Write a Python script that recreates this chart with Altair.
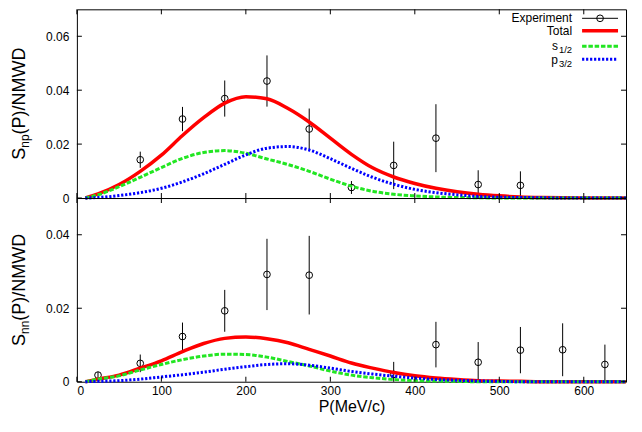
import altair as alt
import pandas as pd

# ---------------- data ----------------
P_grid = [10, 25, 50, 75, 100, 125, 150, 175, 200, 225, 250, 275, 300, 325, 350,
          375, 400, 425, 450, 475, 500, 525, 550, 575, 600, 625, 650]

np_total = [0, 0.0015, 0.0050, 0.0099, 0.0159, 0.0232, 0.0298, 0.0352, 0.0376, 0.0368,
            0.0332, 0.0282, 0.0222, 0.0162, 0.0112, 0.0078, 0.0054, 0.0036, 0.0023,
            0.0014, 0.0008, 0.0004, 0.0002, 0.0001, 0.00005, 0, 0]
np_s12 = [0, 0.0012, 0.0042, 0.0077, 0.0113, 0.0147, 0.0169, 0.0176, 0.0166, 0.0145,
          0.0124, 0.0099, 0.0070, 0.0044, 0.0025, 0.0014, 0.0008, 0.0004, 0.0002,
          0.0001, 0, 0, 0, 0, 0, 0, 0]
np_p32 = [0, 0.0002, 0.0009, 0.0020, 0.0036, 0.0060, 0.0090, 0.0125, 0.0160, 0.0185,
          0.0191, 0.0178, 0.0146, 0.0110, 0.0077, 0.0051, 0.0032, 0.0020, 0.0012,
          0.0006, 0.0003, 0.0002, 0.0001, 0, 0, 0, 0]

nn_total = [0, 0.0007, 0.0018, 0.0037, 0.0057, 0.0082, 0.0104, 0.0118, 0.0122, 0.0117,
            0.0106, 0.0088, 0.0070, 0.0051, 0.0037, 0.0025, 0.0016, 0.0010, 0.0006,
            0.0003, 0.0002, 0.0001, 0, 0, 0, 0, 0]
nn_s12 = [0, 0.0007, 0.0016, 0.0032, 0.0047, 0.0060, 0.0070, 0.0075, 0.0074, 0.0067,
          0.0055, 0.0043, 0.0029, 0.0018, 0.0011, 0.0006, 0.0003, 0.0002, 0.0001,
          0, 0, 0, 0, 0, 0, 0, 0]
nn_p32 = [0, 0.0001, 0.0003, 0.0007, 0.0013, 0.0019, 0.0026, 0.0034, 0.0041, 0.0047,
          0.0049, 0.0045, 0.0037, 0.0028, 0.0021, 0.0015, 0.0010, 0.0006, 0.0004,
          0.0002, 0.0001, 0, 0, 0, 0, 0, 0]

np_P = [75, 125, 175, 225, 275, 325, 375, 425, 475, 525]
np_val = [0.0142, 0.0293, 0.0369, 0.0434, 0.0256, 0.0039, 0.0121, 0.0222, 0.0050, 0.0047]
np_err = [0.0030, 0.0045, 0.0067, 0.0095, 0.0076, 0.0024, 0.0088, 0.0126, 0.0053, 0.0052]

nn_P = [25, 75, 125, 175, 225, 275, 375, 425, 475, 525, 575, 625]
nn_val = [0.0018, 0.0050, 0.0123, 0.0193, 0.0292, 0.0290, 0.0020, 0.0101, 0.0053,
          0.0086, 0.0087, 0.0047]
nn_err = [0.0009, 0.0024, 0.0038, 0.0057, 0.0097, 0.0107, 0.0034, 0.0062, 0.0055,
          0.0063, 0.0072, 0.0054]

x_ticks = [0, 100, 200, 300, 400, 500, 600]
np_yticks = [0, 0.02, 0.04, 0.06]
nn_yticks = [0, 0.02, 0.04]

legend_labels = ["Experiment", "Total"]

# ---------------- styling ----------------
FONT = "Liberation Sans"
W = 550
H_TOP = 189
H_BOT = 184
TICK = 5
RED = "#ff0000"
GREEN = "#22e622"
BLUE = "#0000ff"
one = pd.DataFrame({"a": [0]})


def panel(H, ydomain, yticks, total, s12, p32, Pexp, vexp, eexp, show_x, sub, legend):
    xaxis = (alt.Axis(values=x_ticks, format="d", ticks=False, domain=False, grid=False,
                      labelPadding=4, labelFontSize=12, labelFont=FONT, labelColor="black",
                      title="P(MeV/c)", titleFont=FONT, titleFontSize=16,
                      titleFontWeight="normal", titleColor="black", titlePadding=2)
             if show_x else None)
    yaxis = alt.Axis(values=yticks, format=".2~f", ticks=False, domain=False, grid=False,
                     labelPadding=8, labelFontSize=12, labelFont=FONT, labelColor="black",
                     title=None)
    X = lambda f: alt.X(f, type="quantitative",
                        scale=alt.Scale(domain=[0, 650], nice=False, zero=False), axis=xaxis)
    Y = lambda f: alt.Y(f, type="quantitative",
                        scale=alt.Scale(domain=list(ydomain), nice=False, zero=False), axis=yaxis)

    exp = pd.DataFrame({"P": Pexp, "v": vexp,
                        "lo": [v - e for v, e in zip(vexp, eexp)],
                        "hi": [v + e for v, e in zip(vexp, eexp)]})
    bars = alt.Chart(exp).mark_rule(color="black", strokeWidth=1, clip=True).encode(
        x=X("P"), y=Y("lo"), y2="hi")
    pts = alt.Chart(exp).mark_point(shape="circle", filled=False, color="black", size=45,
                                    strokeWidth=1, opacity=1).encode(x=X("P"), y=Y("v"))

    def curve(vals, color, width, dash=None):
        kw = dict(color=color, strokeWidth=width, interpolate="monotone", strokeCap="butt")
        if dash:
            kw["strokeDash"] = dash
        return alt.Chart(pd.DataFrame({"P": P_grid, "v": vals})).mark_line(**kw).encode(
            x=X("P"), y=Y("v"))

    c_tot = curve(total, RED, 3.5)
    c_s = curve(s12, GREEN, 3, [4.5, 1.8])
    c_p = curve(p32, BLUE, 3, [2.2, 1.8])

    xt = pd.DataFrame({"P": x_ticks})
    yt = pd.DataFrame({"v": yticks})
    ticks = [
        alt.Chart(xt).mark_rule(color="black").encode(x=X("P"), y=alt.value(H), y2=alt.value(H - TICK)),
        alt.Chart(xt).mark_rule(color="black").encode(x=X("P"), y=alt.value(0), y2=alt.value(TICK)),
        alt.Chart(yt).mark_rule(color="black").encode(y=Y("v"), x=alt.value(0), x2=alt.value(TICK)),
        alt.Chart(yt).mark_rule(color="black").encode(y=Y("v"), x=alt.value(W - TICK), x2=alt.value(W)),
    ]

    # composed y title  S_sub(P)/NMWD (rotated), centred on the panel
    def rtext(t, size, x, y):
        return alt.Chart(one).mark_text(text=t, font=FONT, fontSize=size, angle=270,
                                        align="left", baseline="alphabetic",
                                        color="black").encode(x=alt.value(x), y=alt.value(y))
    wS = 0.667 * 18
    wsub = 2 * 0.556 * 12
    wrest = 4.832 * 18
    y0 = H / 2 + (wS + wsub + wrest) / 2
    title = [rtext("S", 18, -51.5, y0), rtext(sub, 12, -48.0, y0 - wS),
             rtext("(P)/NMWD", 18, -51.5, y0 - wS - wsub)]

    layers = [bars, pts, c_tot, c_s, c_p] + ticks + title

    if legend:
        TX = 496
        L0, L1 = 506, 542

        def ltext(t, size, x, y, baseline="middle"):
            return alt.Chart(one).mark_text(text=t, font=FONT, fontSize=size, align="right",
                                            baseline=baseline, color="black").encode(
                x=alt.value(x), y=alt.value(y))

        def lline(y, color, width, dash=None):
            kw = dict(color=color, strokeWidth=width, strokeCap="butt")
            if dash:
                kw["strokeDash"] = dash
            return alt.Chart(one).mark_rule(**kw).encode(
                x=alt.value(L0), x2=alt.value(L1), y=alt.value(y))

        wfrac = (0.556 + 0.278 + 0.556) * 9.5
        layers += [
            ltext(legend_labels[0], 12, TX, 9),
            lline(9, "black", 1),
            alt.Chart(one).mark_point(shape="circle", filled=False, color="black", size=45,
                                      strokeWidth=1, opacity=1).encode(
                x=alt.value((L0 + L1) / 2), y=alt.value(9)),
            ltext(legend_labels[1], 12, TX, 21.5),
            lline(21.5, RED, 3.5),
            ltext("s", 12, TX - wfrac - 1, 41, "alphabetic"),
            ltext("1/2", 9.5, TX, 44, "alphabetic"),
            lline(37, GREEN, 3, [4.5, 1.8]),
            ltext("p", 12, TX - wfrac - 1, 54.5, "alphabetic"),
            ltext("3/2", 9.5, TX, 57.5, "alphabetic"),
            lline(50, BLUE, 3, [2.2, 1.8]),
        ]

    return alt.layer(*layers).properties(width=W, height=H)


top = panel(H_TOP, (0, 0.07), np_yticks, np_total, np_s12, np_p32, np_P, np_val, np_err,
            False, "np", True)
bot = panel(H_BOT, (0, 0.05), nn_yticks, nn_total, nn_s12, nn_p32, nn_P, nn_val, nn_err,
            True, "nn", False)

chart = alt.vconcat(top, bot, spacing=0, bounds="flush").properties(
    padding={"left": 3, "top": 0, "right": 0, "bottom": 0},
    background="white",
).configure_view(stroke="black", strokeWidth=1)

chart.save("out.html", embed_options={"renderer": "svg", "actions": False})
